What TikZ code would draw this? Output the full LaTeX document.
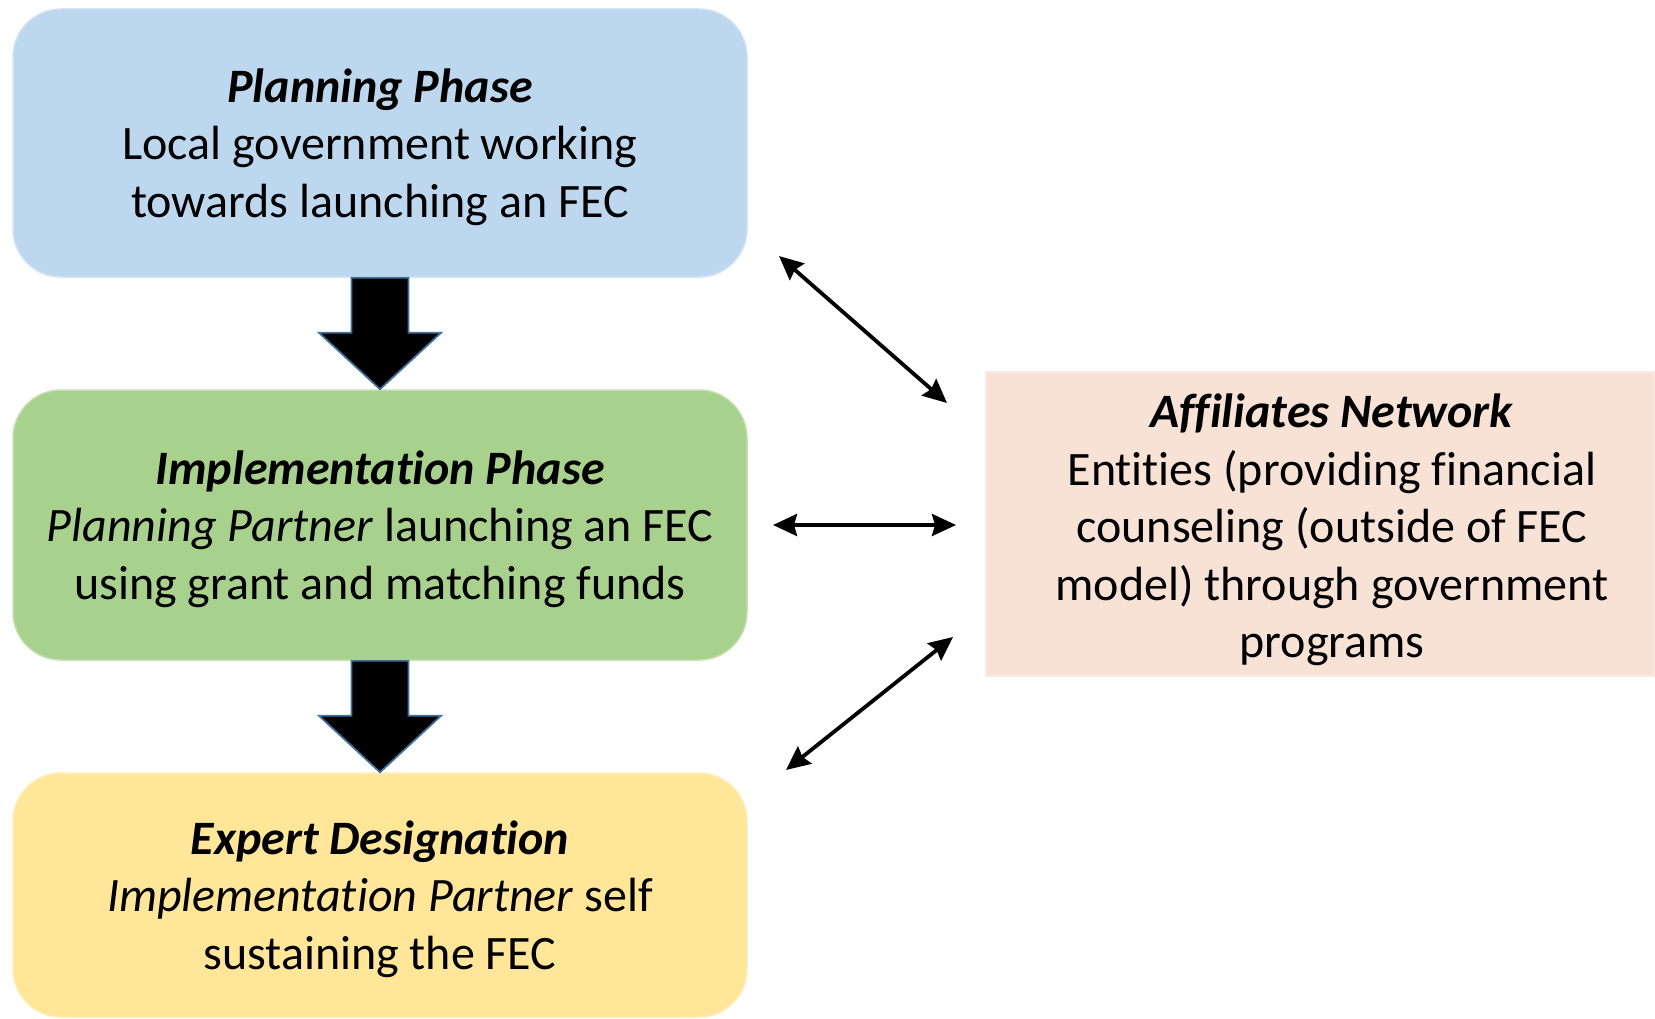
\documentclass[tikz,border=0pt]{standalone}
\usepackage{fontspec}
\setmainfont[Ligatures={NoCommon}]{Carlito}
\usetikzlibrary{arrows.meta,calc}
\definecolor{planblue}{HTML}{BDD7EE}
\definecolor{implgreen}{HTML}{A9D18E}
\definecolor{expyellow}{HTML}{FFE699}
\definecolor{affpink}{HTML}{F8E1D5}
\definecolor{arrowedge}{HTML}{41719C}
\begin{document}
\begin{tikzpicture}[x=1pt,y=-1pt,
  phasebox/.style={rounded corners=48pt, minimum width=734pt, inner sep=0pt, line width=1.5pt},
  boxtext/.style={align=center, inner sep=0pt, font=\fontsize{48}{57.5}\selectfont},
  affbox/.style={rectangle, minimum width=669pt, minimum height=304pt, inner sep=0pt,
    fill=affpink, draw=affpink!70!white, line width=1.5pt},
  blockarrow/.style={fill=black, draw=arrowedge, line width=1.8pt, line join=miter},
  link/.style={line width=3.8pt, {Stealth[length=24pt,width=22pt,inset=3pt]}-{Stealth[length=24pt,width=22pt,inset=3pt]}}
]
\useasboundingbox (0,0) rectangle (1655,1019);

\node[phasebox, minimum height=268pt, fill=planblue, draw=planblue!70!white] (plan) at (380,143) {};
\node[phasebox, minimum height=270pt, fill=implgreen, draw=implgreen!70!white] (impl) at (380,525) {};
\node[phasebox, minimum height=244pt, fill=expyellow, draw=expyellow!70!white] (expert) at (380,895) {};
\node[affbox] (aff) at (1320.5,524) {};

\node[boxtext] (plantext) at ($(plan.center)+(0,4)$)
  {\textbf{\textit{Planning Phase}}\\Local government working\\towards launching an FEC};
\node[boxtext] (impltext) at ($(impl.center)+(0,4)$)
  {\textbf{\textit{Implementation Phase}}\\\textit{Planning Partner} launching an FEC\\using grant and matching funds};
\node[boxtext] (experttext) at ($(expert.center)+(0,4)$)
  {\textbf{\textit{Expert Designation}}\\\textit{Implementation Partner} self\\sustaining the FEC};
\node[boxtext] (afftext) at (1332,530)
  {\textbf{\textit{Affiliates Network}}\\Entities (providing financial\\counseling (outside of FEC\\model) through government\\programs};

% block arrows
\draw[blockarrow] ($(plan.south)+(-28.5,0)$) -- ++(0,55) -- ++(-32.5,0) -- (impl.north) -- ($(plan.south)+(61,55)$) -- ++(-32.5,0) -- ($(plan.south)+(28.5,0)$) -- cycle;
\draw[blockarrow] ($(impl.south)+(-28.5,0)$) -- ++(0,55) -- ++(-32.5,0) -- (expert.north) -- ($(impl.south)+(61,55)$) -- ++(-32.5,0) -- ($(impl.south)+(28.5,0)$) -- cycle;

% link end points
\coordinate (l1a) at (779,256);
\coordinate (l1b) at (947,403);
\coordinate (l2a) at (773,525);
\coordinate (l2b) at (956,525);
\coordinate (l3a) at (953,637);
\coordinate (l3b) at (786,770);
\draw[link] (l1a) -- (l1b);
\draw[link] (l2a) -- (l2b);
\draw[link] (l3a) -- (l3b);
\end{tikzpicture}
\end{document}
